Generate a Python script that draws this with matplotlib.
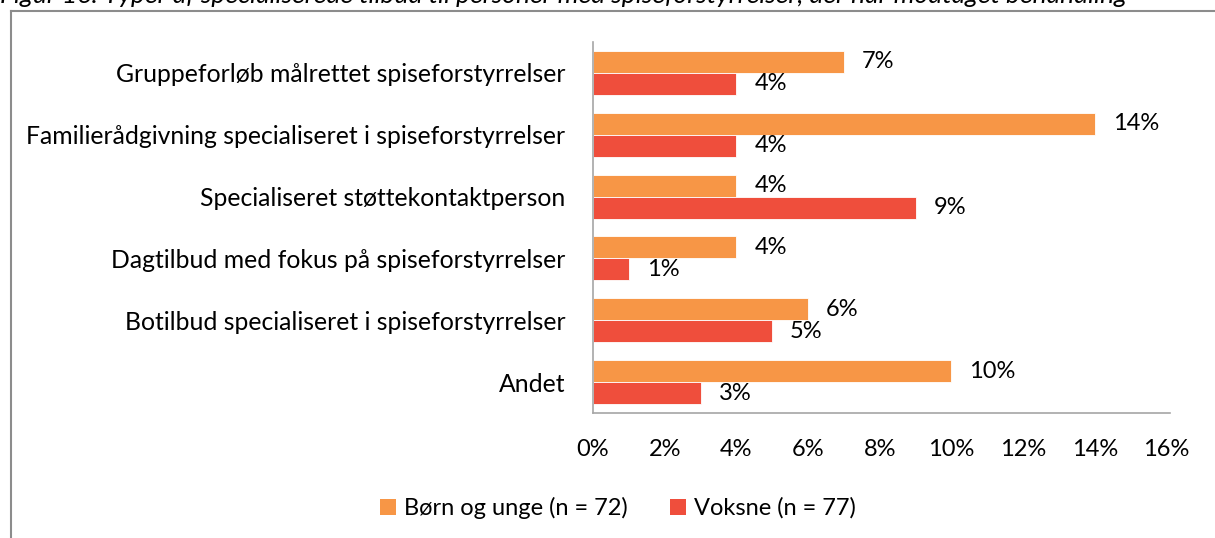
import matplotlib
matplotlib.use("Agg")
import matplotlib.pyplot as plt
from matplotlib.lines import Line2D
from matplotlib.patches import Patch
import numpy as np

plt.rcParams['font.family'] = ['Lato', 'DejaVu Sans']

categories = [
    "Gruppeforløb målrettet spiseforstyrrelser",
    "Familierådgivning specialiseret i spiseforstyrrelser",
    "Specialiseret støttekontaktperson",
    "Dagtilbud med fokus på spiseforstyrrelser",
    "Botilbud specialiseret i spiseforstyrrelser",
    "Andet",
]
born_unge = [7, 14, 4, 4, 6, 10]
voksne = [4, 4, 9, 1, 5, 3]
series_names = ["Børn og unge (n = 72)", "Voksne (n = 77)"]
title = "Figur 16: Typer af specialiserede tilbud til personer med spiseforstyrrelser, der har modtaget behandling"

orange = "#F79646"
red = "#EF4E3C"
axis_grey = "#A6A6A6"

W, H = 1215, 538
fig = plt.figure(figsize=(W / 100, H / 100), dpi=100)
ax = fig.add_axes([593 / W, 1 - 413 / H, (1170 - 593) / W, (413 - 42) / H])

y = np.arange(len(categories))
bh = 0.355
ax.barh(y - bh / 2, born_unge, height=bh, color=orange, edgecolor="white", linewidth=0.6)
ax.barh(y + bh / 2, voksne, height=bh, color=red, edgecolor="white", linewidth=0.6)

fs = 17
for i in range(len(categories)):
    ax.text(born_unge[i] + 0.5, y[i] - bh / 2, f"{born_unge[i]}%", va="center", ha="left", fontsize=fs)
    ax.text(voksne[i] + 0.5, y[i] + bh / 2, f"{voksne[i]}%", va="center", ha="left", fontsize=fs)

ax.set_ylim(len(categories) - 0.5, -0.5)
ax.set_xlim(0, 16.1)
ax.set_xticks(range(0, 17, 2))
ax.set_xticklabels([f"{v}%" for v in range(0, 17, 2)], fontsize=fs)
ax.set_yticks(y)
ax.set_yticklabels(categories, fontsize=17.8)
ax.tick_params(axis="x", length=0, pad=19)
ax.tick_params(axis="y", length=0, pad=20)
for s in ["top", "right"]:
    ax.spines[s].set_visible(False)
for s in ["left", "bottom"]:
    ax.spines[s].set_color(axis_grey)
    ax.spines[s].set_linewidth(1.2)

handles = [Patch(facecolor=orange), Patch(facecolor=red)]
fig.legend(handles, series_names, loc="center", bbox_to_anchor=(618 / W, 1 - 508 / H),
           ncol=2, frameon=False, fontsize=fs, handlelength=0.65, handleheight=0.65,
           handletextpad=0.35, columnspacing=1.8)

# outer frame and clipped caption
fig.add_artist(Line2D([11 / W, 11 / W], [0, 1 - 11 / H], color="#8C8C8C", linewidth=1.5, transform=fig.transFigure))
fig.add_artist(Line2D([11 / W, 1], [1 - 11 / H, 1 - 11 / H], color="#8C8C8C", linewidth=1.5, transform=fig.transFigure))
fig.text(0, 1 - 3 / H, title, ha="left", va="baseline", fontsize=19, style="italic")

fig.savefig("out.png", dpi=100)
